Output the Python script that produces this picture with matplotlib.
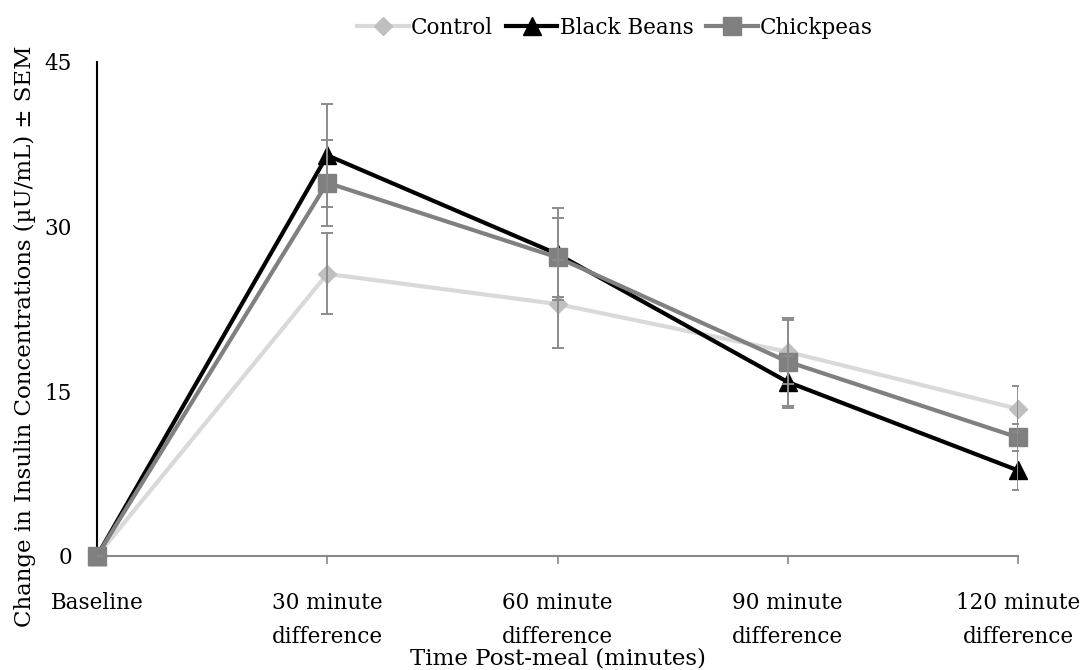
import matplotlib
matplotlib.use("Agg")
import matplotlib.pyplot as plt

categories = ["Baseline", "30 minute\ndifference", "60 minute\ndifference",
              "90 minute\ndifference", "120 minute\ndifference"]
control = [0, 25.7, 22.95, 18.6, 13.4]
control_sem = [0, 3.7, 4.0, 2.9, 2.1]
black_beans = [0, 36.5, 27.5, 15.85, 7.8]
black_beans_sem = [0, 4.7, 4.2, 2.4, 1.8]
chickpeas = [0, 34.0, 27.2, 17.7, 10.8]
chickpeas_sem = [0, 3.9, 3.6, 4.0, 1.2]
yticks = [0, 15, 30, 45]

plt.rcParams['font.family'] = ['DejaVu Serif']
fs = 15.5

fig = plt.figure(figsize=(10.83, 6.7), dpi=100)
ax = fig.add_axes([97/1083, 1-556/670, (1018-97)/1083, (556-62)/670])
x = list(range(len(categories)))

ecol = '#8c8c8c'
series = [
    ("Control", control, control_sem, '#d9d9d9', '#bfbfbf', 'D', 9.5, 2),
    ("Black Beans", black_beans, black_beans_sem, '#000000', '#000000', '^', 13, 3),
    ("Chickpeas", chickpeas, chickpeas_sem, '#808080', '#808080', 's', 12.5, 4),
]
handles = []
for name, vals, sem, lc, mc, mk, ms, z in series:
    ax.errorbar(x, vals, yerr=sem, fmt='none', ecolor=ecol, elinewidth=1.4,
                capsize=4, capthick=1.4, zorder=5)
    h, = ax.plot(x, vals, color=lc, lw=3, marker=mk, markersize=ms,
                 markerfacecolor=mc, markeredgecolor=mc, zorder=z, label=name,
                 clip_on=False)
    handles.append(h)

ax.set_xlim(0, 4)
ax.set_ylim(0, 45)
ax.set_yticks(yticks)
ax.set_xticks(x)
ax.set_xticklabels(categories, fontsize=fs)
ax.tick_params(axis='y', length=0, pad=18, labelsize=fs)
ax.tick_params(axis='x', length=6, width=1.2, color='#898989', direction='out', pad=20)
for s in ['top', 'right']:
    ax.spines[s].set_visible(False)
ax.spines['left'].set_color('black')
ax.spines['left'].set_linewidth(1.5)
ax.spines['bottom'].set_color('#898989')
ax.spines['bottom'].set_linewidth(1.5)
for lab in ax.get_xticklabels():
    lab.set_linespacing(1.72)

fig.text(558/1083, 1-658/670, "Time Post-meal (minutes)", ha='center', va='center', fontsize=16.5)
fig.text(25/1083, 1-336/670, "Change in Insulin Concentrations (µU/mL) ± SEM",
         rotation=90, ha='center', va='center', fontsize=16.5)

fig.legend(handles=handles, loc='center', bbox_to_anchor=(615/1083, 1-28/670),
           ncol=3, frameon=False, fontsize=fs, handlelength=2.4, handletextpad=0.1,
           columnspacing=0.6, borderpad=0)

fig.savefig("out.png", dpi=100)
